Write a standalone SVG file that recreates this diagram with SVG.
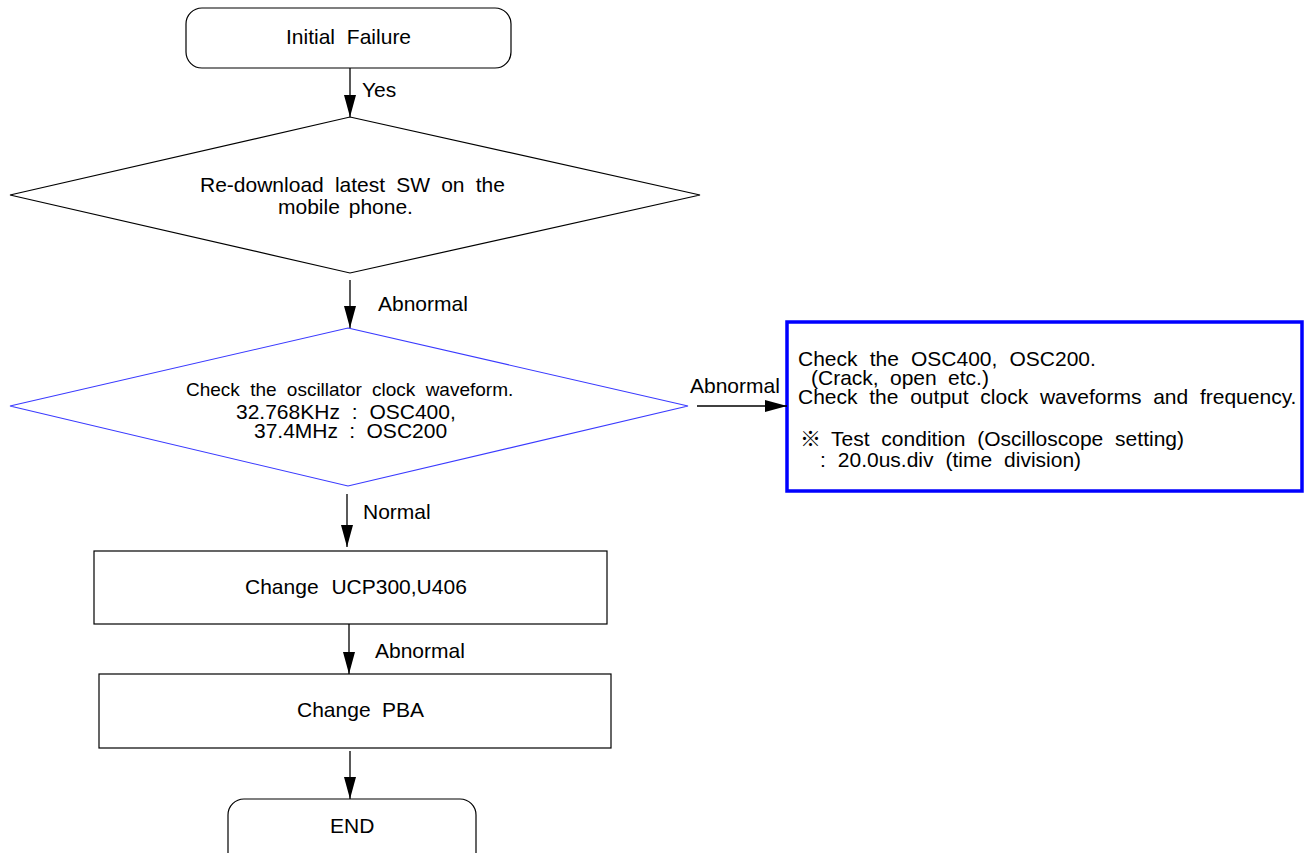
<svg xmlns="http://www.w3.org/2000/svg" width="1307" height="853" viewBox="0 0 1307 853">
<style>
  text { font-family: "Liberation Sans", Arial, "Noto Sans CJK JP", sans-serif; fill: #000; font-size: 21px; word-spacing: 6px; }
  .sm { font-size: 19px; word-spacing: 5px; }
  .node { fill: #fff; stroke: #000; stroke-width: 1.2; }
  .blue { fill: #fff; stroke: #3a3aff; stroke-width: 1.1; }
  .bluebox { fill: #fff; stroke: #0000ff; stroke-width: 3.5; }
  .conn { stroke: #000; stroke-width: 1.3; fill: none; }
</style>
<defs>
  <marker id="arr" markerUnits="userSpaceOnUse" markerWidth="22" markerHeight="12" refX="22" refY="6" viewBox="0 0 22 12" orient="auto">
    <path d="M0,0 L22,6 L0,12 Z" fill="#000"/>
  </marker>
</defs>
<rect width="1307" height="853" fill="#fff"/>

<g id="n-initial">
  <rect class="node" x="186" y="8" width="325" height="60" rx="16" ry="16"/>
  <text x="286" y="44">Initial Failure</text>
</g>

<g id="n-redownload">
  <polygon class="node" points="350,117 700,195 350,273 10,195"/>
  <text x="200" y="192" style="word-spacing:5.3px">Re-download latest SW on the</text>
  <text x="278" y="214" style="word-spacing:3px">mobile phone.</text>
</g>

<g id="n-oscillator">
  <polygon class="blue" points="348,328 688,406 348,486 10,406"/>
  <text class="sm" x="186" y="396">Check the oscillator clock waveform.</text>
  <text x="236" y="419">32.768KHz : OSC400,</text>
  <text x="254" y="438" style="word-spacing:5.5px">37.4MHz : OSC200</text>
</g>

<g id="n-check">
  <rect class="bluebox" x="787" y="322" width="515" height="169"/>
  <text x="798" y="366" style="word-spacing:6.3px">Check the OSC400, OSC200.</text>
  <text x="811" y="385" style="word-spacing:5.5px">(Crack, open etc.)</text>
  <text x="798" y="404" style="word-spacing:5.9px">Check the output clock waveforms and frequency.</text>
  <text y="446"><tspan x="800">※</tspan> <tspan x="831">Test condition (Oscilloscope setting)</tspan></text>
  <text x="820" y="467" style="word-spacing:6.1px">: 20.0us.div (time division)</text>
</g>

<g id="n-ucp">
  <rect class="node" x="94" y="551" width="513" height="73"/>
  <text x="245" y="594" style="word-spacing:7px">Change UCP300,U406</text>
</g>

<g id="n-pba">
  <rect class="node" x="99" y="674" width="512" height="74"/>
  <text x="297" y="717" style="word-spacing:5.6px">Change PBA</text>
</g>

<g id="n-end">
  <rect class="node" x="228" y="799" width="248" height="70" rx="16" ry="16"/>
  <text x="330" y="833">END</text>
</g>

<g id="connectors">
  <line class="conn" x1="350" y1="68" x2="350" y2="117" marker-end="url(#arr)"/>
  <text x="362" y="97">Yes</text>

  <line class="conn" x1="350" y1="280" x2="350" y2="328" marker-end="url(#arr)"/>
  <text x="378" y="311">Abnormal</text>

  <line class="conn" x1="697" y1="406" x2="787" y2="406" marker-end="url(#arr)"/>
  <text x="690" y="393">Abnormal</text>

  <line class="conn" x1="347" y1="494" x2="347" y2="547" marker-end="url(#arr)"/>
  <text x="363" y="519">Normal</text>

  <line class="conn" x1="349" y1="624" x2="349" y2="674" marker-end="url(#arr)"/>
  <text x="375" y="658">Abnormal</text>

  <line class="conn" x1="350" y1="751" x2="350" y2="799" marker-end="url(#arr)"/>
</g>
</svg>
